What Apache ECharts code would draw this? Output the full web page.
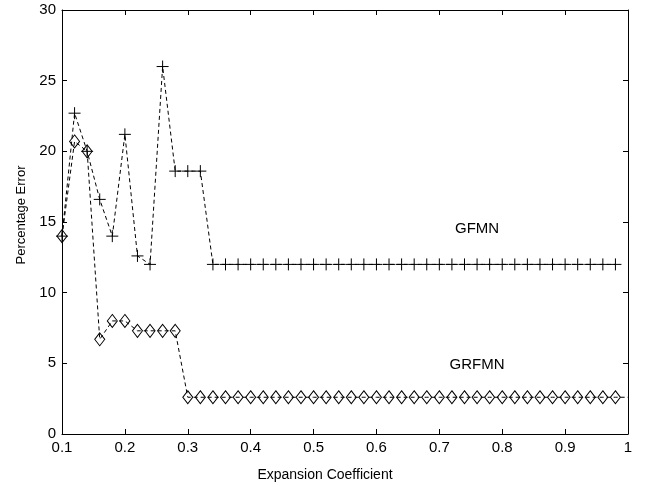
<!DOCTYPE html>
<html>
<head>
<meta charset="utf-8">
<script src="https://cdn.jsdelivr.net/npm/echarts@6/dist/echarts.min.js"></script>
<style>
  html, body { margin: 0; padding: 0; background: #fff; }
  #chart { width: 651px; height: 487px; }
</style>
</head>
<body>
<div id="chart"></div>
<script>
// expansion coefficient samples
var xs = [0.10, 0.12, 0.14, 0.16, 0.18, 0.20, 0.22, 0.24, 0.26, 0.28,
          0.30, 0.32, 0.34, 0.36, 0.38, 0.40, 0.42, 0.44, 0.46, 0.48,
          0.50, 0.52, 0.54, 0.56, 0.58, 0.60, 0.62, 0.64, 0.66, 0.68,
          0.70, 0.72, 0.74, 0.76, 0.78, 0.80, 0.82, 0.84, 0.86, 0.88,
          0.90, 0.92, 0.94, 0.96, 0.98];
var gfmn = [14, 22.7, 20, 16.6, 14, 21.2, 12.6, 12, 26, 18.6,
            18.6, 18.6, 12, 12, 12, 12, 12, 12, 12, 12,
            12, 12, 12, 12, 12, 12, 12, 12, 12, 12,
            12, 12, 12, 12, 12, 12, 12, 12, 12, 12,
            12, 12, 12, 12, 12];
var grfmn = [14, 20.7, 20, 6.7, 8, 8, 7.3, 7.3, 7.3, 7.3,
             2.6, 2.6, 2.6, 2.6, 2.6, 2.6, 2.6, 2.6, 2.6, 2.6,
             2.6, 2.6, 2.6, 2.6, 2.6, 2.6, 2.6, 2.6, 2.6, 2.6,
             2.6, 2.6, 2.6, 2.6, 2.6, 2.6, 2.6, 2.6, 2.6, 2.6,
             2.6, 2.6, 2.6, 2.6, 2.6];
var grfmnEnd = [1.0, 2.6];   // line runs on to the right edge
var labels = [
  { name: 'GFMN', x: 0.76, y: 14.5 },
  { name: 'GRFMN', x: 0.76, y: 4.9 }
];

var font = 'Liberation Sans, Arial, sans-serif';
var chart = echarts.init(document.getElementById('chart'));

function pairs(x, y) {
  return x.map(function (v, i) { return [v, y[i]]; });
}

var axisCommon = {
  type: 'value',
  axisLine: { show: true, onZero: false, lineStyle: { color: '#000', width: 1 } },
  axisTick: { show: true, inside: true, length: 5, lineStyle: { color: '#000' } },
  splitLine: { show: false }
};

var grfmnData = pairs(xs, grfmn);
grfmnData.push({ value: grfmnEnd, symbol: 'none' });

function textMark(l) {
  return {
    symbol: 'rect', symbolSize: 1,
    itemStyle: { color: 'rgba(0,0,0,0)', borderWidth: 0 },
    label: { show: true, position: 'inside', formatter: l.name, color: '#000', fontFamily: font, fontSize: 15 },
    data: [{ coord: [l.x, l.y] }]
  };
}

var option = {
  backgroundColor: '#fff',
  animation: false,
  grid: { left: 62, right: 23, top: 10, bottom: 47 },
  xAxis: [
    Object.assign({}, axisCommon, {
      min: 0.1, max: 1, interval: 0.1,
      name: 'Expansion Coefficient', nameLocation: 'middle', nameGap: 34,
      nameTextStyle: { color: '#000', fontFamily: font, fontSize: 14, padding: [0, 40, 0, 0] },
      axisLabel: { color: '#000', fontFamily: font, fontSize: 15, margin: 6,
        formatter: function (v) { return +v.toFixed(1) + ''; } }
    }),
    Object.assign({}, axisCommon, {
      position: 'top', min: 0.1, max: 1, interval: 0.1,
      axisLabel: { show: false }
    })
  ],
  yAxis: [
    Object.assign({}, axisCommon, {
      min: 0, max: 30, interval: 5,
      name: 'Percentage Error', nameLocation: 'middle', nameGap: 34,
      nameTextStyle: { color: '#000', fontFamily: font, fontSize: 13, padding: [0, 0, 0, 14] },
      axisLabel: { color: '#000', fontFamily: font, fontSize: 15, margin: 6 }
    }),
    Object.assign({}, axisCommon, {
      position: 'right', min: 0, max: 30, interval: 5,
      axisLabel: { show: false }
    })
  ],
  series: [
    {
      name: 'GFMN', type: 'line', data: pairs(xs, gfmn),
      symbol: 'path://M0,6L12,6M6,0L6,12', symbolSize: 12,
      itemStyle: { color: 'rgba(0,0,0,0)', borderColor: '#000', borderWidth: 1 },
      lineStyle: { color: '#000', width: 1, type: [4, 3] },
      markPoint: textMark(labels[0])
    },
    {
      name: 'GRFMN', type: 'line', data: grfmnData,
      symbol: 'diamond', symbolSize: [10, 13],
      itemStyle: { color: 'rgba(0,0,0,0)', borderColor: '#000', borderWidth: 1 },
      lineStyle: { color: '#000', width: 1, type: [4, 3] },
      markPoint: textMark(labels[1])
    }
  ]
};
chart.setOption(option);
</script>
</body>
</html>
